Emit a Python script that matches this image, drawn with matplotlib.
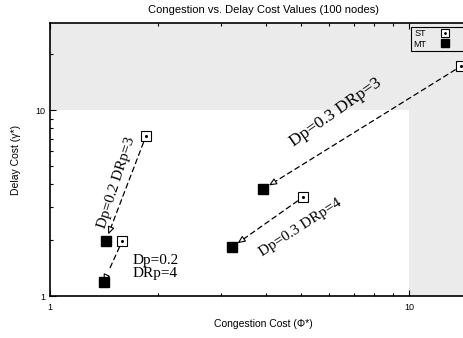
import numpy as np
import matplotlib
matplotlib.use("Agg")
import matplotlib.pyplot as plt
from matplotlib.legend_handler import HandlerTuple

# Data
labels = ["Dp=0.2 DRp=3", "Dp=0.2\nDRp=4", "Dp=0.3 DRp=4", "Dp=0.3 DRp=3"]
st_x = [1.85, 1.59, 5.07, 13.96]
st_y = [7.25, 1.98, 3.41, 17.25]
mt_x = [1.43, 1.41, 3.21, 3.92]
mt_y = [1.98, 1.19, 1.83, 3.76]
label_x = [1.53, 1.70, 4.97, 6.25]
label_y = [4.05, 1.43, 2.32, 9.7]
label_rot = [72, 0, 33, 35]
label_size = [11, 11, 11, 12.5]
label_ha = ["center", "left", "center", "center"]

xlim = (1, 17.9)
ylim = (1, 29.4)
xticks = [1, 10]
yticks = [1, 10]
shade = "#ebebeb"

fig = plt.figure(figsize=(4.63, 3.38), dpi=100)
ax = fig.add_axes([50/463, (338-296)/338, 450/463, 273/338])
ax.set_xscale("log")
ax.set_yscale("log")
ax.set_xlim(*xlim)
ax.set_ylim(*ylim)

# Shaded region: x > 10 or y > 10
ax.axvspan(10, xlim[1], color=shade, zorder=0, lw=0)
ax.axhspan(10, ylim[1], color=shade, zorder=0, lw=0)

serif = "Liberation Serif"
sans = "Liberation Sans"

for i in range(len(st_x)):
    lx0, ly0 = np.log10(st_x[i]), np.log10(st_y[i])
    lx1, ly1 = np.log10(mt_x[i]), np.log10(mt_y[i])
    ax.annotate("", xy=(mt_x[i], mt_y[i]), xytext=(st_x[i], st_y[i]),
                arrowprops=dict(arrowstyle="-", linestyle=(0, (4, 3)), color="black",
                                lw=0.9, shrinkA=5, shrinkB=9), zorder=2)
    f = 0.12 if i != 3 else 0.06
    hx = 10 ** (lx1 + (lx0 - lx1) * f)
    hy = 10 ** (ly1 + (ly0 - ly1) * f)
    ax.annotate("", xy=(mt_x[i], mt_y[i]), xytext=(hx, hy),
                arrowprops=dict(arrowstyle="-|>,head_length=0.45,head_width=0.2",
                                fc="white", ec="black", lw=0.8, shrinkA=0, shrinkB=5), zorder=3)
    ax.text(label_x[i], label_y[i], labels[i], rotation=label_rot[i], ha=label_ha[i],
            va="center", fontsize=label_size[i], family=serif, rotation_mode="anchor",
            linespacing=1.0, zorder=4)

st_sq = ax.plot(st_x, st_y, ls="none", marker="s", ms=6.5, mfc="white", mec="black",
                mew=0.8, zorder=5)[0]
st_dot = ax.plot(st_x, st_y, ls="none", marker="o", ms=1.2, mfc="black", mec="black",
                 zorder=6)[0]
mt_sq = ax.plot(mt_x, mt_y, ls="none", marker="s", ms=6.8, mfc="black", mec="black",
                zorder=5)[0]

leg = ax.legend([(st_sq, st_dot), mt_sq], ["ST", "MT"],
                handler_map={tuple: HandlerTuple(ndivide=1, pad=0)},
                loc="upper left", bbox_to_anchor=((411-50)/450, (296-27)/273),
                markerfirst=False, frameon=True, fancybox=False,
                prop={"family": sans, "size": 6.5}, borderpad=0.25, labelspacing=0.15,
                handlelength=3.6, handletextpad=0.3, borderaxespad=0, markerscale=0.85)
leg.get_frame().set_edgecolor("black")
leg.get_frame().set_facecolor(shade)
leg.get_frame().set_linewidth(0.8)
leg.get_frame().set_alpha(1)

ax.set_xticks(xticks)
ax.set_xticklabels([str(t) for t in xticks])
ax.set_yticks(yticks)
ax.set_yticklabels([str(t) for t in yticks])
ax.tick_params(which="both", direction="in", top=True, right=False, labelsize=6.5, width=0.8)
ax.tick_params(which="major", length=4)
ax.tick_params(which="minor", length=2.5, labelleft=False, labelbottom=False)
ax.tick_params(axis="x", pad=5)
for lab in ax.get_xticklabels() + ax.get_yticklabels():
    lab.set_family(sans)
for k, s in ax.spines.items():
    s.set_linewidth(1.2)
ax.spines["right"].set_visible(False)

cx = (263 - 50) / 450
ax.set_title("Congestion vs. Delay Cost Values (100 nodes)", fontsize=8, family=sans, pad=7, x=cx)
ax.set_xlabel("Congestion Cost (Φ*)", fontsize=7.5, family=["Liberation Sans", "DejaVu Sans"], labelpad=5, x=cx)
ax.set_ylabel("Delay Cost (γ*)", fontsize=7.5, family=["Liberation Sans", "DejaVu Sans"], labelpad=10)

fig.savefig("out.png", dpi=100)
